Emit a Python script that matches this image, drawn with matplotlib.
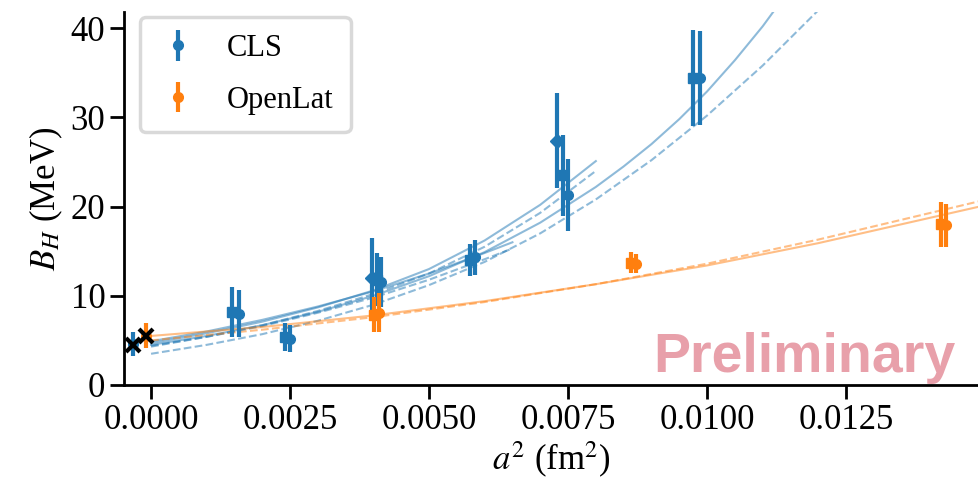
import numpy as np
import matplotlib
matplotlib.use("Agg")
import matplotlib.pyplot as plt

plt.rcParams['font.family'] = ['Liberation Serif', 'DejaVu Serif']
plt.rcParams['mathtext.fontset'] = 'stix'

BLUE = '#1f77b4'
ORANGE = '#ff7f0e'

# CLS points
cls_x = [-0.00032, 0.00146, 0.00158, 0.00241, 0.00250, 0.00397, 0.00407, 0.00413,
         0.00574, 0.00583, 0.00730, 0.00741, 0.00750, 0.00975, 0.00987]
cls_y = [4.6, 8.2, 8.0, 5.4, 5.2, 12.0, 11.8, 11.5, 14.0, 14.3, 27.4, 23.5, 21.3, 34.4, 34.4]
cls_err = [1.3, 2.8, 2.6, 1.6, 1.5, 4.5, 3.0, 2.8, 1.8, 2.0, 5.3, 4.5, 4.0, 5.4, 5.3]
cls_mk = ['o', 's', 'o', 's', 'o', 'D', 's', 'o', 's', 'o', 'D', 's', 'o', 's', 'o']

# OpenLat points
ol_x = [-0.00009, 0.00401, 0.00410, 0.00863, 0.00872, 0.01421, 0.01430]
ol_y = [5.5, 7.9, 8.1, 13.7, 13.6, 18.0, 17.9]
ol_err = [1.4, 2.0, 2.2, 1.2, 1.1, 2.5, 2.4]
ol_mk = ['o', 's', 'o', 's', 'o', 's', 'o']

# continuum points (black crosses)
cont_x = [-0.00032, -0.00009]
cont_y = [4.5, 5.5]

# fit curves
fit_s1_x = [0, 0.001, 0.002, 0.003, 0.004, 0.005, 0.006, 0.007, 0.008, 0.0085, 0.009,
            0.0095, 0.010, 0.0105, 0.011, 0.0112]
fit_s1_y = [4.5, 5.5, 6.7, 8.2, 10.0, 12.2, 14.9, 18.2, 22.2, 24.5, 27.0, 29.8, 32.9,
            36.4, 40.2, 41.9]
fit_d1_x = [0, 0.001, 0.002, 0.003, 0.004, 0.005, 0.006, 0.007, 0.008, 0.009, 0.010, 0.011, 0.012]
fit_d1_y = [3.5, 4.5, 5.7, 7.2, 9.0, 11.2, 13.8, 17.0, 20.8, 25.2, 30.2, 35.8, 42.0]
fit_s2_x = [0, 0.001, 0.002, 0.003, 0.004, 0.005, 0.006, 0.007, 0.008]
fit_s2_y = [4.7, 5.8, 7.1, 8.7, 10.6, 13.0, 16.2, 20.2, 25.1]
fit_d2_x = [0, 0.001, 0.002, 0.003, 0.004, 0.005, 0.006, 0.007, 0.008]
fit_d2_y = [4.3, 5.4, 6.7, 8.3, 10.2, 12.5, 15.5, 19.3, 24.0]
fit_s3_x = [0, 0.001, 0.002, 0.003, 0.004, 0.005, 0.006, 0.0065]
fit_s3_y = [4.9, 6.0, 7.3, 8.8, 10.5, 12.5, 14.8, 16.0]
fit_d3_x = [0, 0.001, 0.002, 0.003, 0.004, 0.005, 0.006, 0.0065]
fit_d3_y = [4.4, 5.4, 6.6, 8.1, 9.8, 11.8, 14.1, 15.3]
fit_os_x = [0, 0.002, 0.004, 0.006, 0.008, 0.010, 0.012, 0.0149]
fit_os_y = [5.5, 6.5, 7.8, 9.4, 11.3, 13.4, 15.9, 20.0]
fit_od_x = [0, 0.002, 0.004, 0.006, 0.008, 0.010, 0.012, 0.0149]
fit_od_y = [5.0, 6.2, 7.6, 9.3, 11.3, 13.6, 16.3, 20.6]

fig = plt.figure(figsize=(9.79, 4.83), dpi=100)
ax = fig.add_axes([0.1267, 0.2029, 0.8733, 0.772])

# fits
for fx, fy, ls in [(fit_s1_x, fit_s1_y, '-'), (fit_d1_x, fit_d1_y, '--'),
                   (fit_s2_x, fit_s2_y, '-'), (fit_d2_x, fit_d2_y, '--'),
                   (fit_s3_x, fit_s3_y, '-'), (fit_d3_x, fit_d3_y, '--')]:
    ax.plot(fx, fy, ls, color=BLUE, alpha=0.5, lw=1.5)
ax.plot(fit_os_x, fit_os_y, '-', color=ORANGE, alpha=0.5, lw=1.5)
ax.plot(fit_od_x, fit_od_y, '--', color=ORANGE, alpha=0.5, lw=1.5)

# data
for i in range(len(cls_x)):
    ax.errorbar(cls_x[i], cls_y[i], yerr=cls_err[i], fmt=cls_mk[i], color=BLUE,
                ms=7, elinewidth=3, capsize=0, zorder=3)
for i in range(len(ol_x)):
    ax.errorbar(ol_x[i], ol_y[i], yerr=ol_err[i], fmt=ol_mk[i], color=ORANGE,
                ms=7, elinewidth=3, capsize=0, zorder=3)
ax.plot(cont_x, cont_y, 'x', color='k', ms=10, mew=3, zorder=5)

# legend handles
ax.errorbar([np.nan], [np.nan], yerr=[np.nan], fmt='o', color=BLUE, ms=7,
            elinewidth=3, capsize=0, label='CLS')
ax.errorbar([np.nan], [np.nan], yerr=[np.nan], fmt='o', color=ORANGE, ms=7,
            elinewidth=3, capsize=0, label='OpenLat')
leg = ax.legend(loc='upper left', fontsize=22, frameon=True, fancybox=True,
                bbox_to_anchor=(16 / 855, 1 - 5 / 373), borderaxespad=0,
                borderpad=0.55, handlelength=1.4, handletextpad=0.9, labelspacing=0.75)
leg.get_frame().set_edgecolor('#d9d9d9')
leg.get_frame().set_linewidth(2.5)
leg.get_frame().set_alpha(1.0)

ax.text(0.972, 0.035, 'Preliminary', transform=ax.transAxes, ha='right', va='baseline',
        fontsize=40, fontweight='bold', family='Liberation Sans', color='#e8a0aa')

ax.set_xlim(-0.000486, 0.014892)
ax.set_ylim(0, 41.8)
ax.set_xticks([0.0, 0.0025, 0.005, 0.0075, 0.01, 0.0125])
ax.set_xticklabels(['0.0000', '0.0025', '0.0050', '0.0075', '0.0100', '0.0125'])
ax.set_yticks([0, 10, 20, 30, 40])
ax.tick_params(labelsize=25, width=2, length=10)
ax.set_xlabel(r'$a^2$ (fm$^2$)', fontsize=25, labelpad=2)
ax.set_ylabel(r'$B_H$ (MeV)', fontsize=25, labelpad=4)
ax.spines['top'].set_visible(False)
ax.spines['right'].set_visible(False)
ax.spines['left'].set_linewidth(2)
ax.spines['bottom'].set_linewidth(2)

fig.savefig('out.png', dpi=100)
